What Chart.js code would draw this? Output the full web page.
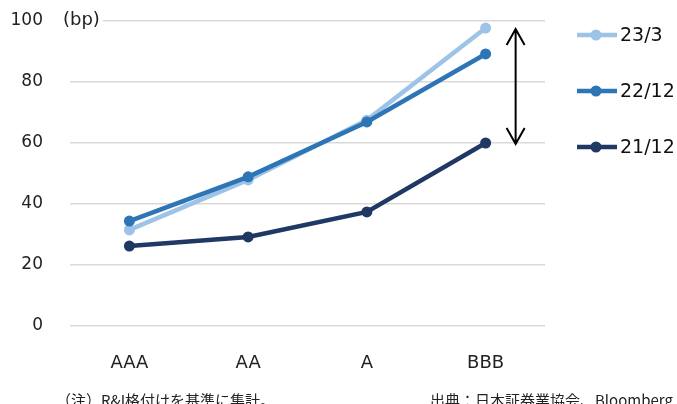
<!DOCTYPE html>
<html lang="ja">
  <head>
    <meta charset="UTF-8" />
    <title>格付別スプレッド</title>
    <script src="https://cdn.jsdelivr.net/npm/chart.js"></script>
    <style>
      body { margin: 0; width: 677px; height: 404px; overflow: hidden; background: #fff; position: relative; }
      .wrap { position: absolute; left: 0; top: 0; width: 677px; height: 404px; }
      .nota { position: absolute; font-family: "Noto Sans CJK JP", "DejaVu Sans", sans-serif; font-size: 15px; color: #222; white-space: nowrap; }
    </style>
  </head>
  <body>
    <div class="wrap"><canvas id="myChart" width="677" height="404"></canvas></div>
    <div class="nota" style="left:56px; top:389px;">（注）R&amp;I格付けを基準に集計。</div>
    <div class="nota" style="left:430px; top:389px;">出典：日本証券業協会、Bloomberg</div>
  </body>
</html>

<script>
  // categorias e series
  var categorias = ["AAA", "AA", "A", "BBB"];
  var serie233 = [31.5, 47.9, 67.5, 97.7];
  var serie2212 = [34.4, 48.9, 66.9, 89.2];
  var serie2112 = [26.2, 29.2, 37.4, 60.0];
  var nomes = ["23/3", "22/12", "21/12"];
  var cores = ["#9DC3E6", "#2E75B6", "#203864"];
  var ticksY = [0, 20, 40, 60, 80, 100];

  var fonte = "'DejaVu Sans', sans-serif";

  // seta dupla entre 23/3 e 21/12 no BBB + legenda a direita + (bp)
  var extras = {
    id: "extras",
    beforeDatasetsDraw: function (chart) {
      // (bp) cobre o inicio da linha de grade do 100
      var ctx = chart.ctx;
      ctx.save();
      ctx.fillStyle = "#fff";
      ctx.fillRect(62, 8, 41, 22);
      ctx.font = "18px " + fonte;
      ctx.fillStyle = "#222";
      ctx.textBaseline = "middle";
      ctx.fillText("(bp)", 63, 20);
      ctx.restore();
    },
    afterDraw: function (chart) {
      var ctx = chart.ctx;
      var x = chart.scales.x;
      var y = chart.scales.y;
      var n = categorias.length - 1;
      var ax = x.getPixelForValue(n) + 30;
      var y1 = y.getPixelForValue(serie233[n]) + 1;
      var y2 = y.getPixelForValue(serie2112[n]) + 1;

      ctx.save();
      ctx.strokeStyle = "#000";
      ctx.lineWidth = 2;
      ctx.beginPath();
      ctx.moveTo(ax, y1);
      ctx.lineTo(ax, y2);
      ctx.moveTo(ax - 9, y1 + 16);
      ctx.lineTo(ax, y1);
      ctx.lineTo(ax + 9, y1 + 16);
      ctx.moveTo(ax - 9, y2 - 16);
      ctx.lineTo(ax, y2);
      ctx.lineTo(ax + 9, y2 - 16);
      ctx.stroke();

      // legenda
      ctx.font = "19px " + fonte;
      ctx.textBaseline = "middle";
      for (var i = 0; i < nomes.length; i++) {
        var ly = 35 + i * 56;
        ctx.strokeStyle = cores[i];
        ctx.lineWidth = 4.5;
        ctx.beginPath();
        ctx.moveTo(577, ly);
        ctx.lineTo(617, ly);
        ctx.stroke();
        ctx.fillStyle = cores[i];
        ctx.beginPath();
        ctx.arc(596, ly, 5.5, 0, Math.PI * 2);
        ctx.fill();
        ctx.fillStyle = "#111";
        ctx.fillText(nomes[i], 620, ly + 1);
      }
      ctx.restore();
    }
  };

  var datasets = [serie233, serie2212, serie2112].map(function (d, i) {
    return {
      label: nomes[i],
      data: d,
      borderColor: cores[i],
      backgroundColor: cores[i],
      borderWidth: 4.5,
      pointRadius: 5.5,
      pointHoverRadius: 5.5,
      pointBorderWidth: 0,
      tension: 0,
      order: 3 - i,
    };
  });

  new Chart(document.getElementById("myChart"), {
    type: "line",
    data: { labels: categorias, datasets: datasets },
    plugins: [extras],
    options: {
      responsive: false,
      animation: false,
      layout: { padding: { left: 0, right: 132, top: 21, bottom: 0 } },
      plugins: { legend: { display: false }, tooltip: { enabled: false } },
      scales: {
        x: {
          offset: true,
          grid: { display: false },
          border: { display: false },
          ticks: { color: "#222", font: { family: fonte, size: 18 }, padding: 19 },
          afterFit: function (s) { s.height = 78; },
        },
        y: {
          min: 0,
          max: 100,
          afterBuildTicks: function (s) { s.ticks = ticksY.map(function (v) { return { value: v }; }); },
          grid: { color: "#d9d9d9", lineWidth: 1.5, drawTicks: true, tickLength: 27, tickColor: "rgba(0,0,0,0)" },
          border: { display: false },
          ticks: { color: "#222", font: { family: fonte, size: 17 }, padding: 0 },
          afterFit: function (s) { s.width = 70; },
        },
      },
    },
  });
</script>
